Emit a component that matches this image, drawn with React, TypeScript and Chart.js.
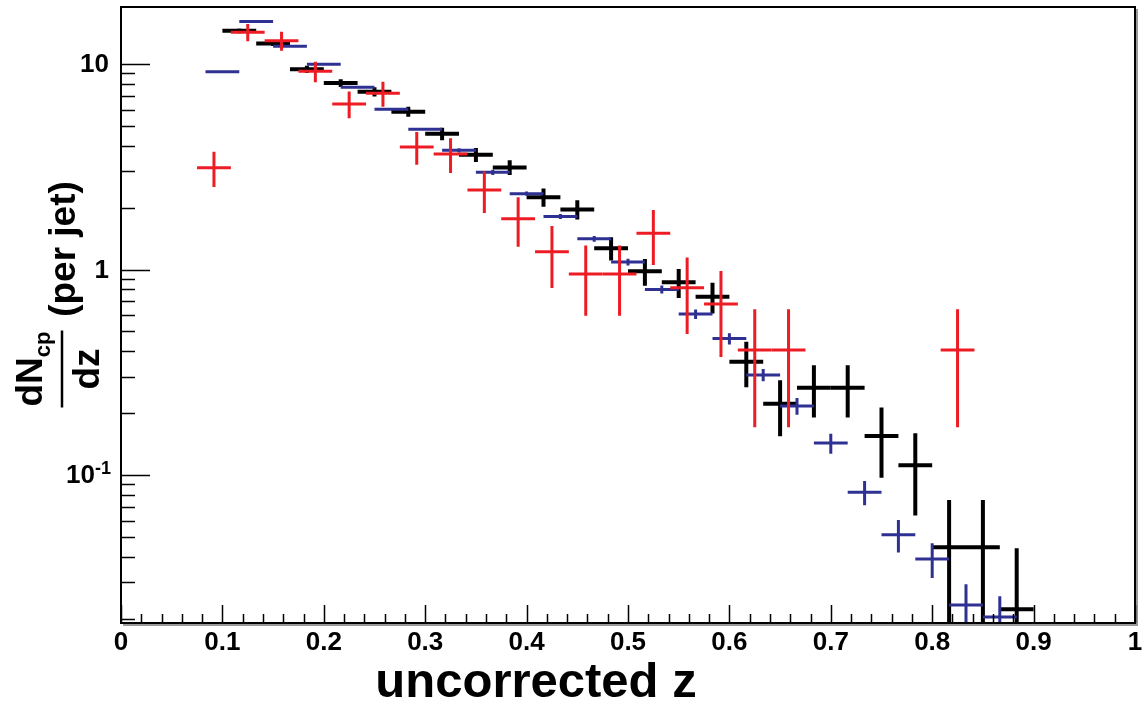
import React, { useEffect, useRef } from "react";
import { Chart, registerables } from "chart.js";

Chart.register(...registerables);

// ---------- data ----------
const binHalfWidth = 0.016667;

const blackZ = [0.11667, 0.15, 0.18333, 0.21667, 0.25, 0.28333, 0.31667, 0.35, 0.38333, 0.41667, 0.45, 0.48333, 0.51667, 0.55, 0.58333, 0.61667, 0.65, 0.68333, 0.71667, 0.75, 0.78333, 0.81667, 0.85, 0.88333];
const blackY = [14.5, 12.6, 9.42, 8.08, 7.33, 5.86, 4.58, 3.62, 3.14, 2.25, 1.96, 1.27, 0.98, 0.867, 0.737, 0.356, 0.222, 0.266, 0.266, 0.155, 0.1115, 0.0445, 0.0445, 0.0222];
const blackErr = [0.4, 0.35, 0.39, 0.36, 0.38, 0.33, 0.32, 0.28, 0.26, 0.23, 0.21, 0.164, 0.146, 0.14, 0.126, 0.089, 0.0675, 0.0756, 0.0756, 0.058, 0.048, 0.0311, 0.0311, 0.0218];

const blueZ = [0.1, 0.13333, 0.16667, 0.2, 0.23333, 0.26667, 0.3, 0.33333, 0.36667, 0.4, 0.43333, 0.46667, 0.5, 0.53333, 0.56667, 0.6, 0.63333, 0.66667, 0.7, 0.73333, 0.76667, 0.8, 0.83333, 0.86667];
const blueY = [9.17, 16.1, 12.2, 9.97, 7.7, 6.02, 4.81, 3.8, 2.97, 2.34, 1.81, 1.41, 1.088, 0.8, 0.607, 0.461, 0.307, 0.2167, 0.143, 0.0824, 0.0512, 0.039, 0.0233, 0.0204];
const blueErr = [0.09, 0.12, 0.1, 0.09, 0.08, 0.07, 0.07, 0.09, 0.085, 0.058, 0.05, 0.044, 0.041, 0.036, 0.032, 0.029, 0.021, 0.02, 0.016, 0.0111, 0.0092, 0.0075, 0.0061, 0.0053];

const redZ = [0.09167, 0.125, 0.15833, 0.19167, 0.225, 0.25833, 0.29167, 0.325, 0.35833, 0.39167, 0.425, 0.45833, 0.49167, 0.525, 0.55833, 0.59167, 0.625, 0.65833, 0.825];
const redY = [3.13, 14.27, 12.98, 9.21, 6.39, 7.2, 3.95, 3.65, 2.44, 1.767, 1.221, 0.951, 0.951, 1.5, 0.815, 0.679, 0.406, 0.406, 0.406];
const redErr = [0.61, 1.38, 1.38, 1.06, 0.95, 1.0, 0.72, 0.7, 0.556, 0.477, 0.408, 0.356, 0.356, 0.447, 0.33, 0.304, 0.235, 0.235, 0.235];

const xMajorTicks = [0, 0.1, 0.2, 0.3, 0.4, 0.5, 0.6, 0.7, 0.8, 0.9, 1];
const xTickLabels = ["0", "0.1", "0.2", "0.3", "0.4", "0.5", "0.6", "0.7", "0.8", "0.9", "1"];
const yMajorTicks = [0.1, 1, 10];
const yTickBase = ["10", "1", "10"];
const yTickExp = ["-1", "", ""];

const X_MIN = 0;
const X_MAX = 1;
const Y_MIN = 0.01905;
const Y_MAX = 18.94;

const FONT = "'Liberation Sans', Arial, Helvetica, sans-serif";

function pts(xs: number[], ys: number[]) {
  return xs.map((x, i) => ({ x, y: ys[i] }));
}

const errorBarPlugin = {
  id: "errorBars",
  afterDatasetsDraw(chart: any) {
    const { ctx, chartArea, scales } = chart;
    const xs = scales.x;
    const ys = scales.y;
    ctx.save();
    ctx.beginPath();
    ctx.rect(chartArea.left, chartArea.top, chartArea.right - chartArea.left, chartArea.bottom - chartArea.top);
    ctx.clip();
    chart.data.datasets.forEach((ds: any) => {
      ctx.strokeStyle = ds.borderColor;
      ctx.lineWidth = ds.errWidth;
      ctx.lineCap = "butt";
      ds.data.forEach((p: any, j: number) => {
        const e = ds.yErr[j];
        const xl = xs.getPixelForValue(p.x - binHalfWidth);
        const xr = xs.getPixelForValue(p.x + binHalfWidth);
        const xc = xs.getPixelForValue(p.x);
        const yc = ys.getPixelForValue(p.y);
        const yh = ys.getPixelForValue(p.y + e);
        const yl = p.y - e > 0 ? ys.getPixelForValue(p.y - e) : chartArea.bottom + 20;
        ctx.beginPath();
        ctx.moveTo(xl, yc);
        ctx.lineTo(xr, yc);
        ctx.moveTo(xc, yh);
        ctx.lineTo(xc, yl);
        ctx.stroke();
      });
    });
    ctx.restore();
  },
};

const axesPlugin = {
  id: "rootAxes",
  afterDraw(chart: any) {
    const { ctx, chartArea, scales } = chart;
    const xs = scales.x;
    const ys = scales.y;
    const { left, right, top, bottom } = chartArea;
    ctx.save();

    // frame shadow
    ctx.strokeStyle = "#9a9a9a";
    ctx.lineWidth = 2;
    ctx.beginPath();
    ctx.moveTo(right + 2, top + 2);
    ctx.lineTo(right + 2, bottom + 2);
    ctx.lineTo(left + 2, bottom + 2);
    ctx.stroke();

    // frame
    ctx.strokeStyle = "#000";
    ctx.lineWidth = 2;
    ctx.strokeRect(left, top, right - left, bottom - top);

    // x ticks
    ctx.lineWidth = 1.5;
    ctx.beginPath();
    for (let i = 0; i <= 50; i++) {
      const v = X_MIN + (i * (X_MAX - X_MIN)) / 50;
      const px = Math.round(xs.getPixelForValue(v)) + 0.5;
      const len = i % 5 === 0 ? 18 : 9;
      ctx.moveTo(px, bottom);
      ctx.lineTo(px, bottom - len);
    }
    ctx.stroke();

    // y ticks (log)
    ctx.beginPath();
    for (let dec = -2; dec <= 1; dec++) {
      for (let m = 1; m <= 9; m++) {
        const v = m * Math.pow(10, dec);
        if (v < Y_MIN || v > Y_MAX) continue;
        const py = Math.round(ys.getPixelForValue(v)) + 0.5;
        const len = m === 1 ? 29 : 14;
        ctx.moveTo(left, py);
        ctx.lineTo(left + len, py);
      }
    }
    ctx.stroke();

    // x tick labels
    ctx.fillStyle = "#000";
    ctx.font = `bold 26px ${FONT}`;
    ctx.textAlign = "center";
    ctx.textBaseline = "top";
    xMajorTicks.forEach((v, i) => {
      ctx.fillText(xTickLabels[i], xs.getPixelForValue(v), bottom + 7);
    });

    // y tick labels
    yMajorTicks.forEach((v, i) => {
      const py = ys.getPixelForValue(v);
      const rightEdge = 109;
      ctx.textBaseline = "middle";
      if (yTickExp[i]) {
        ctx.font = `bold 18px ${FONT}`;
        ctx.textAlign = "right";
        const ew = ctx.measureText(yTickExp[i]).width;
        ctx.fillText(yTickExp[i], rightEdge + 2, py - 6);
        ctx.font = `bold 26px ${FONT}`;
        ctx.fillText(yTickBase[i], rightEdge + 2 - ew, py + 1);
      } else {
        ctx.font = `bold 26px ${FONT}`;
        ctx.textAlign = "right";
        ctx.fillText(yTickBase[i], rightEdge, py + 1);
      }
    });

    // x title
    ctx.font = `bold 49px ${FONT}`;
    ctx.textAlign = "center";
    ctx.textBaseline = "alphabetic";
    ctx.fillText("uncorrected z", 536, 697);

    // y title (rotated): #frac{dN_{cp}}{dz} (per jet)
    ctx.save();
    ctx.rotate(-Math.PI / 2);
    ctx.textBaseline = "alphabetic";
    ctx.textAlign = "left";
    ctx.font = `bold 37px ${FONT}`;
    const wdN = ctx.measureText("dN").width;
    ctx.font = `bold 22px ${FONT}`;
    const wcp = ctx.measureText("cp").width;
    const numW = wdN + wcp;
    const fracC = -369;
    const u0 = fracC - numW / 2;
    ctx.font = `bold 37px ${FONT}`;
    ctx.fillText("dN", u0, 42);
    ctx.font = `bold 22px ${FONT}`;
    ctx.fillText("cp", u0 + wdN, 50);
    ctx.lineWidth = 2.5;
    ctx.beginPath();
    ctx.moveTo(fracC - numW / 2 - 1, 62);
    ctx.lineTo(fracC + numW / 2 + 1, 62);
    ctx.stroke();
    ctx.font = `bold 37px ${FONT}`;
    ctx.textAlign = "center";
    ctx.fillText("dz", fracC, 99);
    ctx.fillText("(per jet)", -249, 75);
    ctx.restore();

    ctx.restore();
  },
};

export default function App() {
  const canvasRef = useRef<HTMLCanvasElement | null>(null);

  useEffect(() => {
    if (!canvasRef.current) return;
    const chart = new Chart(canvasRef.current, {
      type: "scatter",
      data: {
        datasets: [
          {
            label: "black",
            data: pts(blackZ, blackY),
            borderColor: "#000000",
            backgroundColor: "#000000",
            pointRadius: 0,
            showLine: false,
            yErr: blackErr,
            errWidth: 4,
          } as any,
          {
            label: "blue",
            data: pts(blueZ, blueY),
            borderColor: "#2e3192",
            backgroundColor: "#2e3192",
            pointRadius: 0,
            showLine: false,
            yErr: blueErr,
            errWidth: 3,
          } as any,
          {
            label: "red",
            data: pts(redZ, redY),
            borderColor: "#ed1c24",
            backgroundColor: "#ed1c24",
            pointRadius: 0,
            showLine: false,
            yErr: redErr,
            errWidth: 3,
          } as any,
        ],
      },
      options: {
        responsive: false,
        animation: false,
        devicePixelRatio: 1,
        layout: { padding: { left: 121, right: 9, top: 7, bottom: 85 } },
        plugins: { legend: { display: false }, tooltip: { enabled: false } },
        events: [],
        scales: {
          x: { type: "linear", min: X_MIN, max: X_MAX, display: false },
          y: { type: "logarithmic", min: Y_MIN, max: Y_MAX, display: false },
        },
      },
      plugins: [errorBarPlugin, axesPlugin],
    });
    return () => chart.destroy();
  }, []);

  return (
    <div style={{ position: "absolute", left: 0, top: 0, width: 1144, height: 708, background: "#fff" }}>
      <canvas ref={canvasRef} width={1144} height={708} style={{ display: "block" }} />
    </div>
  );
}
